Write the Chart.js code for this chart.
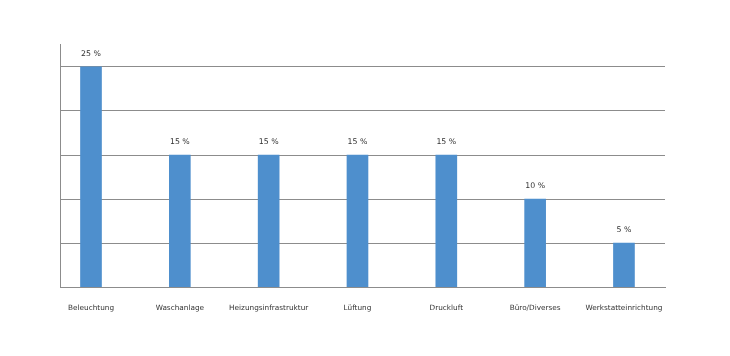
<!DOCTYPE html>
<html><head><meta charset="utf-8">
<script src="https://cdn.jsdelivr.net/npm/chart.js@4"></script>
<style>html,body{margin:0;padding:0;background:#fff}#wrap{width:730px;height:356px}</style>
</head><body><div id="wrap"><canvas id="c"></canvas></div>
<script>
const categories = ["Beleuchtung","Waschanlage","Heizungsinfrastruktur","Lüftung","Druckluft","Büro/Diverses","Werkstatteinrichtung"];
const values = [25,15,15,15,15,10,5];
const valueLabels = ["25 %","15 %","15 %","15 %","15 %","10 %","5 %"];
const yGridValues = [0,5,10,15,20,25];

const labelPlugin = {
  id:'valLabels',
  afterDatasetsDraw(chart){
    const ctx = chart.ctx;
    const meta = chart.getDatasetMeta(0);
    ctx.save();
    ctx.font = '7.8px "DejaVu Sans"';
    ctx.fillStyle = '#333';
    ctx.textAlign = 'center';
    ctx.textBaseline = 'middle';
    meta.data.forEach((el,i)=>{
      ctx.fillText(valueLabels[i], el.x, el.y - 13);
    });
    ctx.restore();
  }
};

new Chart(document.getElementById('c'),{
  type:'bar',
  data:{datasets:[{data: values.map((v,i)=>({x:i,y:v})), backgroundColor:'#4E8FCD', barThickness:21}]},
  options:{
    responsive:true, maintainAspectRatio:false, animation:false,
    layout:{padding:{left:60,right:65,top:44,bottom:28}},
    plugins:{legend:{display:false},tooltip:{enabled:false}},
    scales:{
      x:{type:'linear', min:-0.349, max:6.462, offset:false,
        afterBuildTicks(axis){ axis.ticks = categories.map((_,i)=>({value:i})); },
        grid:{display:false, drawTicks:false},
        border:{display:true,color:'#8c8c8c',width:1},
        ticks:{autoSkip:false,maxRotation:0,padding:16,color:'#333',font:{family:'DejaVu Sans',size:7.3},
          callback:(v)=>categories[v]}
      },
      y:{min:0,max:27.6,
        afterBuildTicks(axis){ axis.ticks = yGridValues.map(v=>({value:v})); },
        ticks:{display:false},
        grid:{color:'#8c8c8c',drawTicks:false,lineWidth:1},
        border:{display:true,color:'#8c8c8c',width:1}
      }
    }
  },
  plugins:[labelPlugin]
});
</script></body></html>
